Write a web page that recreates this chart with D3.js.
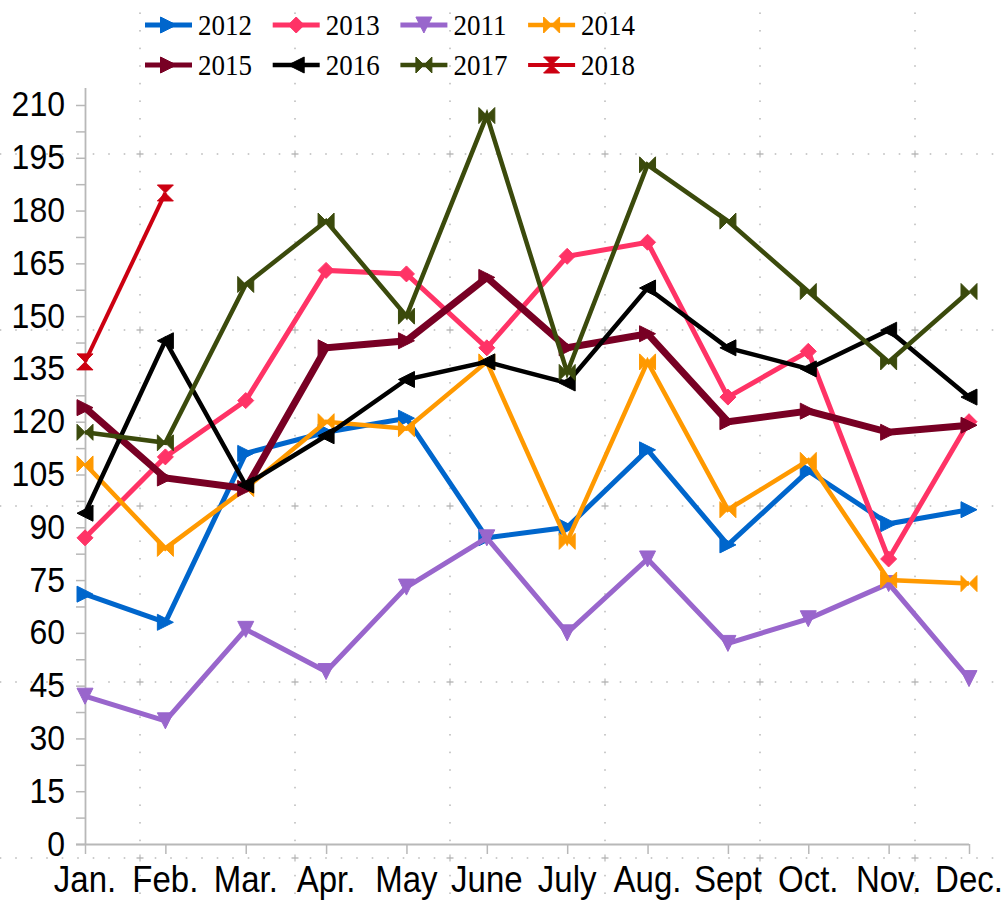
<!DOCTYPE html>
<html>
<head>
<meta charset="utf-8">
<script src="https://cdnjs.cloudflare.com/ajax/libs/d3/7.8.5/d3.min.js"></script>
<style>
  html, body { margin: 0; padding: 0; background: #fff; }
  #chart { width: 1006px; height: 901px; }
</style>
</head>
<body>
<div id="chart"></div>
<script>
var months = ["Jan.", "Feb.", "Mar.", "Apr.", "May", "June", "July", "Aug.", "Sept", "Oct.", "Nov.", "Dec."];
var yTicks = [0, 15, 30, 45, 60, 75, 90, 105, 120, 135, 150, 165, 180, 195, 210];

var v2012 = [71, 63, 111, 117, 121, 87, 90, 112, 85, 106, 91, 95];
var v2013 = [87, 110, 126, 163, 162, 141, 167, 171, 127, 140, 81, 120];
var v2011 = [42, 35, 61, 49, 73, 87, 60, 81, 57, 64, 74, 47];
var v2014 = [108, 84, 101, 120, 118, 137, 86, 137, 95, 109, 75, 74];
var v2015 = [124, 104, 101, 141, 143, 161, 141, 145, 120, 123, 117, 119];
var v2016 = [94, 143, 102, 116, 132, 137, 131, 158, 141, 135, 146, 127];
var v2017 = [117, 114, 159, 177, 150, 207, 134, 193, 177, 157, 137, 157];
var v2018 = [137, 185];

var seriesNames = ["2012", "2013", "2011", "2014", "2015", "2016", "2017", "2018"];
var seriesValues = [v2012, v2013, v2011, v2014, v2015, v2016, v2017, v2018];

// look of each series, same order as seriesNames
var colors = ["#0066cc", "#ff3366", "#9966cc", "#ff9900", "#780024", "#000000", "#3b4a0c", "#cc0011"];
var widths = [5, 5, 5, 4.5, 7, 4.5, 4.5, 4];
var shapes = ["right", "diamond", "down", "bowtie", "right", "left", "bowtie", "hourglass"];

var width = 1006;
var height = 901;
var stretch = 1.12;

var markerPath = function(shape, s){
  if (shape == "right") return "M" + (-s) + "," + (-s) + "L" + s + ",0L" + (-s) + "," + s + "Z";
  if (shape == "left") return "M" + s + "," + (-s) + "L" + (-s) + ",0L" + s + "," + s + "Z";
  if (shape == "down") return "M" + (-s) + "," + (-s) + "L" + s + "," + (-s) + "L0," + s + "Z";
  if (shape == "diamond") return "M0," + (-s) + "L" + s + ",0L0," + s + "L" + (-s) + ",0Z";
  if (shape == "bowtie") return "M" + (-s) + "," + (-s) + "L0,0L" + (-s) + "," + s + "Z" +
                               "M" + s + "," + (-s) + "L0,0L" + s + "," + s + "Z";
  return "M" + (-s) + "," + (-s) + "L" + s + "," + (-s) + "L0,0Z" +
         "M" + (-s) + "," + s + "L" + s + "," + s + "L0,0Z";
};

var svg = d3.select("#chart")
  .append("svg")
  .attr("width", width)
  .attr("height", height);

// dotted page grid in the background
var gridX = d3.range(-15, width, 155);
var gridY = d3.range(-22, height, 176);
var bg = svg.append("g").attr("fill", "#bfbfbf");
gridX.forEach(function(gx){
  bg.selectAll(null)
    .data(d3.range(-22, height, 17.6))
    .enter().append("rect")
    .attr("x", gx - 0.8).attr("y", function(d){ return d - 0.8; })
    .attr("width", 1.6).attr("height", 1.6);
});
gridY.forEach(function(gy){
  bg.selectAll(null)
    .data(d3.range(-15, width, 15.5))
    .enter().append("rect")
    .attr("x", function(d){ return d - 0.8; }).attr("y", gy - 0.8)
    .attr("width", 1.6).attr("height", 1.6);
  gridX.forEach(function(gx){
    bg.append("path")
      .attr("d", "M" + (gx - 3.5) + "," + gy + "h7M" + gx + "," + (gy - 3.5) + "v7")
      .attr("stroke", "#bdbdbd").attr("stroke-width", 1.3);
  });
});

var x = d3.scalePoint().domain(months).range([85, 969]);
var y = d3.scaleLinear().domain([0, 215]).range([844, 87.4]);

// y axis
var yAxis = svg.append("g")
  .attr("transform", "translate(85,0)")
  .call(d3.axisLeft(y).tickValues(d3.range(0, 211, 7.5)).tickSize(9).tickSizeOuter(0).tickFormat(""));
yAxis.selectAll("line").attr("stroke", "#b8b8b8").attr("stroke-width", 1.5);
yAxis.select(".domain").attr("stroke", "#b8b8b8").attr("stroke-width", 1.8);

svg.append("g").selectAll("text")
  .data(yTicks)
  .enter().append("text")
  .attr("transform", function(d){ return "translate(65," + (y(d) + 11.5) + ") scale(1," + stretch + ")"; })
  .attr("text-anchor", "end")
  .attr("font-family", "'Liberation Sans', Arial, sans-serif")
  .attr("font-size", 32)
  .attr("fill", "#000")
  .text(function(d){ return d; });

// x axis
var xAxis = svg.append("g")
  .attr("transform", "translate(0,844)")
  .call(d3.axisBottom(x).tickSize(10).tickSizeOuter(0).tickFormat(""));
xAxis.selectAll("line").attr("stroke", "#b8b8b8").attr("stroke-width", 1.5);
xAxis.select(".domain").attr("stroke", "#b8b8b8").attr("stroke-width", 1.8)
  .attr("d", "M76,0.5H969");

svg.append("g").selectAll("text")
  .data(months)
  .enter().append("text")
  .attr("transform", function(d){ return "translate(" + x(d) + ",892) scale(1," + stretch + ")"; })
  .attr("text-anchor", "middle")
  .attr("font-family", "'Liberation Sans', Arial, sans-serif")
  .attr("font-size", 33)
  .attr("fill", "#000")
  .text(function(d){ return d; });

// series
var line = d3.line()
  .x(function(d, i){ return x(months[i]); })
  .y(function(d){ return y(d); });

seriesValues.forEach(function(vals, k){
  var g = svg.append("g");
  g.append("path")
    .attr("d", line(vals))
    .attr("fill", "none")
    .attr("stroke", colors[k])
    .attr("stroke-width", widths[k])
    .attr("stroke-linejoin", "miter");
  g.selectAll("path.mark")
    .data(vals)
    .enter().append("path")
    .attr("class", "mark")
    .attr("transform", function(d, i){ return "translate(" + x(months[i]) + "," + y(d) + ")"; })
    .attr("d", markerPath(shapes[k], 8))
    .attr("fill", colors[k])
    .attr("stroke", colors[k])
    .attr("stroke-width", 1);
});

// legend, 4 columns x 2 rows
var legend = svg.append("g")
  .selectAll("g")
  .data(seriesNames)
  .enter().append("g")
  .attr("transform", function(d, i){ return "translate(" + (145 + (i % 4) * 127.7) + "," + (25 + Math.floor(i / 4) * 40) + ")"; });

legend.append("line")
  .attr("x1", 0).attr("x2", 47)
  .attr("stroke", function(d, i){ return colors[i]; })
  .attr("stroke-width", function(d, i){ return Math.min(widths[i], 5); });

legend.append("path")
  .attr("transform", "translate(23.5,0)")
  .attr("d", function(d, i){ return markerPath(shapes[i], 8); })
  .attr("fill", function(d, i){ return colors[i]; })
  .attr("stroke", function(d, i){ return colors[i]; })
  .attr("stroke-width", 1);

legend.append("text")
  .attr("transform", "translate(53,10) scale(1," + stretch + ")")
  .attr("font-family", "'Liberation Serif', 'Times New Roman', serif")
  .attr("font-size", 27)
  .attr("fill", "#000")
  .text(function(d){ return d; });
</script>
</body>
</html>
